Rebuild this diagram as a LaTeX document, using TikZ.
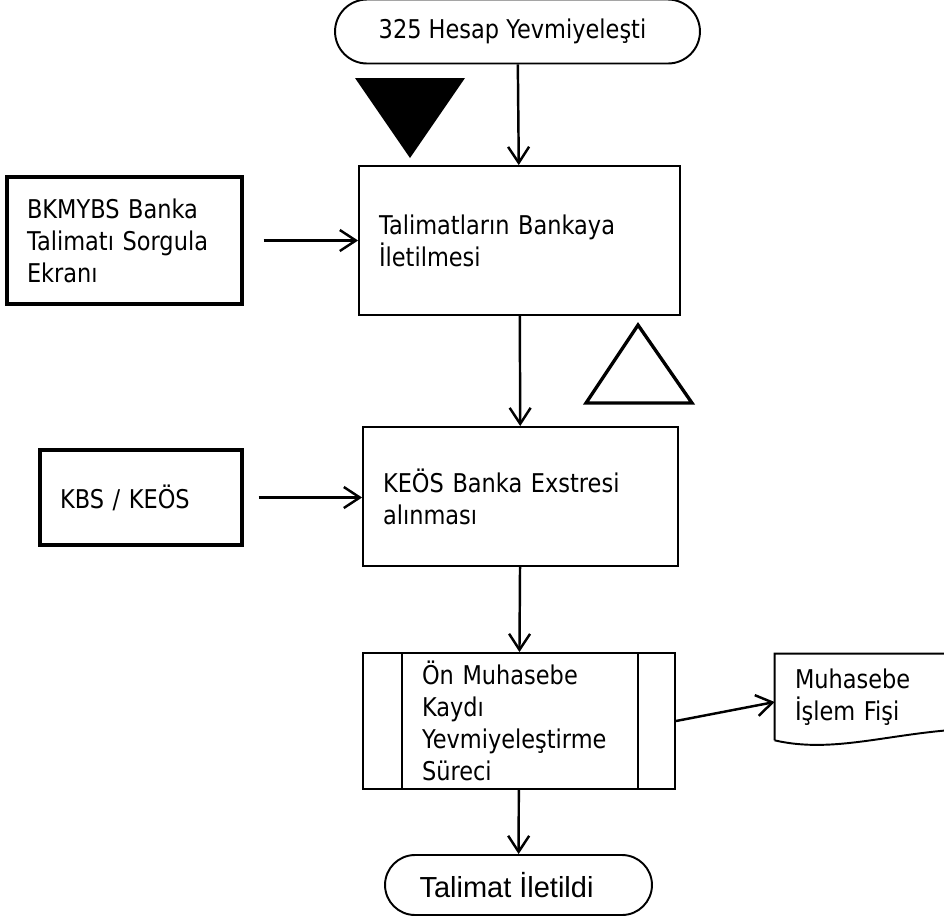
\documentclass[tikz,border=0pt]{standalone}
\usepackage{fontspec}
\setmainfont{DejaVu Sans}[FakeStretch=0.87]
\newfontfamily\endfont{Liberation Sans}
\usetikzlibrary{arrows.meta,shapes.misc}
\newcommand\pix{0.02cm}

\tikzset{
  box/.style={draw, line width=1.1pt, align=left, inner xsep=0.4cm, inner ysep=0pt},
  srcbox/.style={box, line width=2pt},
  term/.style={draw, line width=1.1pt, rounded rectangle, inner sep=0pt},
  flow/.style={-{Straight Barb[length=0.32cm,width=0.42cm]}, line width=1.4pt},
}

\begin{document}
\begin{tikzpicture}[x=\pix, y=-\pix, font=\fontsize{14.7}{18.2}\selectfont]
    \clip (0,0) rectangle (944,917);

    % main column
    \node[term, minimum width=7.3cm, minimum height=1.28cm] (start) at (517.5,31.5) {325 Hesap Yevmiyeleşti\hspace*{0.2cm}};
    \node[box, text width=5.62cm, minimum height=2.98cm] (send) at (519.5,240.5) {Talimatların Bankaya\\İletilmesi};
    \node[box, text width=5.5cm, minimum height=2.78cm] (extract) at (520.5,496.5) {KEÖS Banka Exstresi\\alınması};
    \node[box, inner xsep=1.18cm, text width=3.88cm, minimum height=2.72cm] (journal) at (519,721)
      {Ön Muhasebe\\Kaydı\\Yevmiyeleştirme\\Süreci};
    \node[term, minimum width=5.34cm, minimum height=1.2cm, font=\endfont\fontsize{16.5}{19}\selectfont] (done) at (518.5,885)
      {Talimat İletildi\hspace*{0.48cm}};

    % side sources
    \node[srcbox, text width=3.9cm, minimum height=2.54cm] (query) at (124.5,240.5) {BKMYBS Banka\\Talimatı Sorgula\\Ekranı};
    \node[srcbox, text width=3.24cm, minimum height=1.9cm] (kbs) at (141,497.5) {KBS / KEÖS};

    % output document
    \node[align=left, inner xsep=0.4cm, inner ysep=0pt, text width=3.5cm, minimum height=1.72cm] (slip) at (882.5,697)
      {Muhasebe\\İşlem Fişi};
    \draw[line width=1.1pt] (slip.south west) -- (slip.north west) -- (slip.north east)
      -- ([yshift=0.24cm]slip.south east) .. controls +(-90,0) and +(65,15) .. (slip.south west);

    % process bars
    \draw[line width=1.1pt] ([xshift=0.8cm]journal.north west) -- ([xshift=0.8cm]journal.south west);
    \draw[line width=1.1pt] ([xshift=-0.76cm]journal.north east) -- ([xshift=-0.76cm]journal.south east);

    % markers
    \fill[line join=round] (355,78) -- (465,78) -- (410,158) -- cycle;
    \draw[line width=1.9pt] (638,325) -- (692,403) -- (586,403) -- cycle;

    % connectors
    \draw[flow] (start) -- (send);
    \draw[flow] (send) -- (extract);
    \draw[flow] (extract) -- (journal);
    \draw[flow] (journal) -- (done);
    \draw[flow, shorten <=0.4cm] (query.east) -- (send.west);
    \draw[flow, shorten <=0.3cm] (kbs.east) -- (extract.west |- kbs.east);
    \draw[flow] (journal.east) -- ([yshift=-0.1cm]slip.west);
\end{tikzpicture}
\end{document}
